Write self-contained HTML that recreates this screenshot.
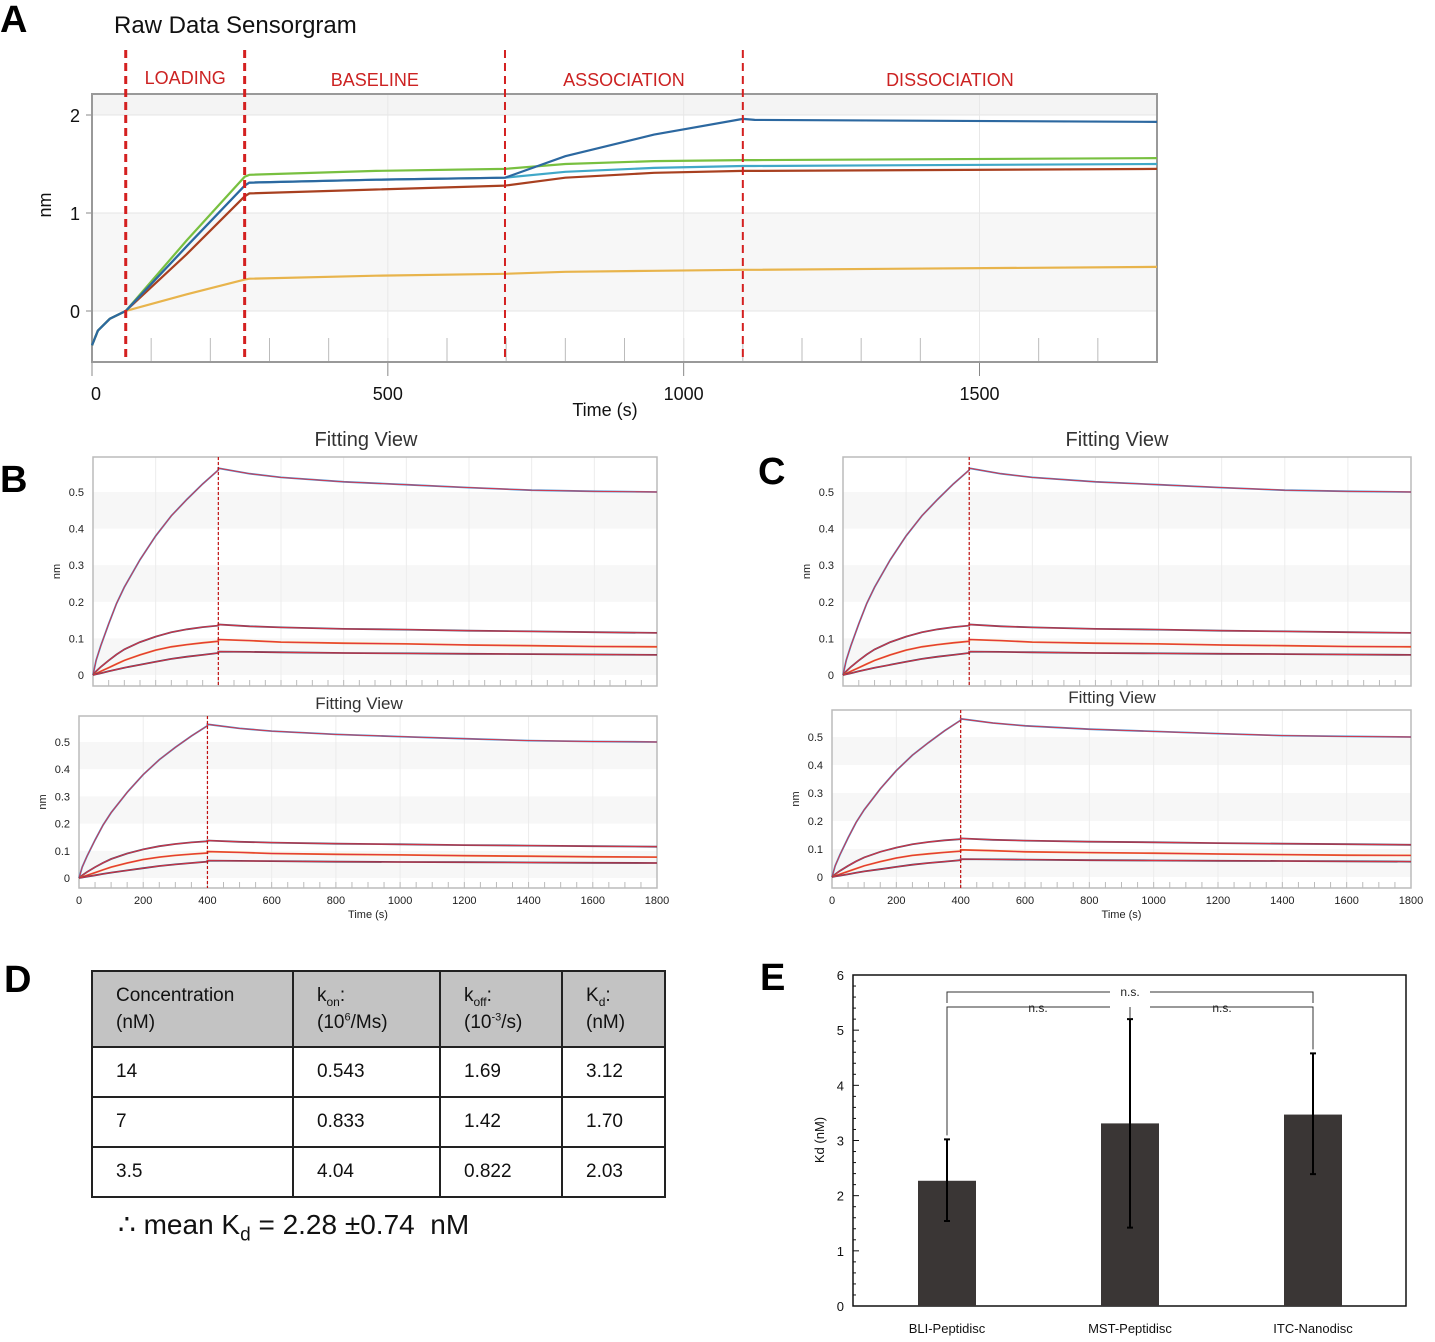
<!DOCTYPE html>
<html><head><meta charset="utf-8">
<style>
body{margin:0;background:#fff;width:1435px;height:1342px;overflow:hidden;position:relative;font-family:"Liberation Sans",sans-serif}
svg{position:absolute;left:0;top:0}
table{position:absolute;left:91px;top:970px;border-collapse:collapse;font-size:19px;color:#111}
td{border:2px solid #222;padding:0 0 0 23px;vertical-align:middle}
td sub,td sup{line-height:0}
tr.h td{background:#c3c3c3;height:74px;line-height:27px}
tr.r td{height:48px}
.mean{position:absolute;left:118px;top:1208px;font-size:28px;color:#111}
.mean sub{line-height:0}
</style></head><body>
<svg id="s" width="1435" height="1342" xmlns="http://www.w3.org/2000/svg" font-family="Liberation Sans, sans-serif"></svg>
<table>
<tr class="h"><td style="width:176px">Concentration<br>(nM)</td><td style="width:122px">k<sub style="font-size:12px">on</sub>:<br>(10<sup style="font-size:11px">6</sup>/Ms)</td><td style="width:97px">k<sub style="font-size:12px">off</sub>:<br>(10<sup style="font-size:11px">-3</sup>/s)</td><td style="width:78px">K<sub style="font-size:12px">d</sub>:<br>(nM)</td></tr>
<tr class="r"><td>14</td><td>0.543</td><td>1.69</td><td>3.12</td></tr>
<tr class="r"><td>7</td><td>0.833</td><td>1.42</td><td>1.70</td></tr>
<tr class="r"><td>3.5</td><td>4.04</td><td>0.822</td><td>2.03</td></tr>
</table>
<div class="mean">∴ mean K<sub style="font-size:19px">d</sub> = 2.28 ±0.74&nbsp; nM</div>
<script>
// Panel A data
const aTimes=[0,10,30,57,160,258,266,480,698,800,950,1100,1120,1800];
const aGreen=[-0.35,-0.2,-0.08,0,0.72,1.37,1.39,1.43,1.45,1.50,1.53,1.54,1.54,1.56];
const aDarkBlue=[-0.35,-0.2,-0.08,0,0.66,1.28,1.31,1.34,1.36,1.58,1.80,1.96,1.95,1.93];
const aTeal=[-0.35,-0.2,-0.08,0,0.66,1.28,1.31,1.34,1.36,1.42,1.46,1.48,1.48,1.50];
const aBrown=[-0.35,-0.2,-0.08,0,0.58,1.17,1.20,1.24,1.28,1.36,1.41,1.43,1.43,1.45];
const aYellow=[-0.35,-0.2,-0.08,0,0.17,0.32,0.33,0.36,0.38,0.40,0.41,0.42,0.42,0.45];
const aPhaseTimes=[57,258,698,1100];
const aPhaseLabels=["LOADING","BASELINE","ASSOCIATION","DISSOCIATION"];
const aXTicks=[0,500,1000,1500];
const aYTicks=[0,1,2];
// Fitting data
const fTimes=[0,10,25,50,75,100,150,200,250,300,350,400,400,500,600,800,1000,1200,1400,1600,1800];
const f1=[0,0.04,0.08,0.14,0.195,0.24,0.315,0.38,0.435,0.48,0.522,0.56,0.565,0.55,0.54,0.528,0.52,0.512,0.505,0.502,0.50];
const f2=[0,0.01,0.022,0.04,0.056,0.07,0.09,0.105,0.117,0.125,0.131,0.135,0.138,0.133,0.13,0.126,0.124,0.121,0.119,0.117,0.115];
const f3=[0,0.004,0.01,0.02,0.03,0.04,0.055,0.068,0.077,0.083,0.088,0.092,0.097,0.094,0.09,0.087,0.085,0.082,0.08,0.078,0.077];
const f4=[0,0.002,0.005,0.01,0.015,0.02,0.028,0.036,0.044,0.05,0.055,0.06,0.064,0.063,0.062,0.06,0.059,0.058,0.057,0.056,0.055];
const fYTicks=[0,0.1,0.2,0.3,0.4,0.5];
const fXTicks=[0,200,400,600,800,1000,1200,1400,1600,1800];
// Panel E data
const eCats=["BLI-Peptidisc","MST-Peptidisc","ITC-Nanodisc"];
const eVals=[2.27,3.31,3.47];
const eHi=[3.02,5.20,4.58];
const eLo=[1.54,1.42,2.39];
const eYTicks=[0,1,2,3,4,5,6];

const S=document.getElementById('s');const NS='http://www.w3.org/2000/svg';
function mk(tag,at,txt){const e=document.createElementNS(NS,tag);for(const k in at)e.setAttribute(k,at[k]);if(txt!==undefined)e.textContent=txt;S.appendChild(e);return e;}
function path(xs,ys,X,Y){return xs.map((t,i)=>(i?'L':'M')+X(t).toFixed(1)+' '+Y(ys[i]).toFixed(1)).join('');}

[["A",0,32],["B",0,492],["C",758,484],["D",4,992],["E",760,990]].forEach(d=>{
 const e=mk('text',{x:d[1],y:d[2],'font-size':38,'font-weight':'bold',fill:'#000'},d[0]);
 
 });
let t=mk('text',{x:114,y:33,'font-size':24,fill:'#111'},'Raw Data Sensorgram');



// ---- Panel A ----
{const x0=92,x1=1157,y0=94,y1=362;const X=v=>x0+v*(x1-x0)/1800;const Y=v=>311-v*98;
 mk('rect',{x:x0,y:y0,width:x1-x0,height:y1-y0,fill:'#fff'});
 mk('rect',{x:x0,y:y0,width:x1-x0,height:Y(2)-y0,fill:'#f4f4f4'});
 mk('rect',{x:x0,y:Y(1),width:x1-x0,height:Y(0)-Y(1),fill:'#f7f7f7'});
 aYTicks.forEach(v=>{mk('line',{x1:x0,x2:x1,y1:Y(v),y2:Y(v),stroke:'#e4e4e4'});
  mk('line',{x1:x0-6,x2:x0,y1:Y(v),y2:Y(v),stroke:'#888'});
  const e=mk('text',{x:x0-12,y:Y(v)+7,'font-size':18,'text-anchor':'end',fill:'#111'},v);
  
  });
 for(let v=100;v<1800;v+=100){mk('line',{x1:X(v),x2:X(v),y1:y1-24,y2:y1,stroke:'#bbb'});}
 aXTicks.forEach(v=>{mk('line',{x1:X(v),x2:X(v),y1:y0,y2:y1,stroke:'#e8e8e8'});mk('line',{x1:X(v),x2:X(v),y1:y1,y2:y1+14,stroke:'#888'});
  const e=mk('text',{x:X(v)+(v?0:4),y:400,'font-size':18,'text-anchor':'middle',fill:'#111'},v);
  
  });
 mk('rect',{x:x0,y:y0,width:x1-x0,height:y1-y0,fill:'none',stroke:'#999','stroke-width':2});
 [[aYellow,'#e8b44c'],[aBrown,'#a84020'],[aTeal,'#40a8c8'],[aGreen,'#78c040'],[aDarkBlue,'#2c68a0']].forEach((s,i)=>{
  const e=mk('path',{d:path(aTimes,s[0],X,Y),fill:'none',stroke:s[1],'stroke-width':2.2});
  
  });
 aPhaseTimes.forEach((v,i)=>{const e=mk('line',{x1:X(v),x2:X(v),y1:50,y2:y1,stroke:'#d42020','stroke-width':i<2?3:2,'stroke-dasharray':'8,5'});
  
  
  const nx=i<3?(X(v)+X(aPhaseTimes[i+1]))/2:(X(v)+x1)/2;
  const l=mk('text',{x:nx,y:i?86:84,'font-size':18,'text-anchor':'middle',fill:'#cc2222'},aPhaseLabels[i]);
  
  });
 let e=mk('text',{x:51,y:205,'font-size':18,transform:'rotate(-90 51 205)','text-anchor':'middle',fill:'#111'},'nm');
 
 
 e=mk('text',{x:605,y:416,'font-size':18,'text-anchor':'middle',fill:'#111'},'Time (s)');
 
 }

// ---- Fitting views ----
function fit(o){const X=v=>o.x0+v*(o.x1-o.x0)/1800;const Y=v=>o.yz-v*o.k;
 mk('rect',{x:o.x0,y:o.y0,width:o.x1-o.x0,height:o.y1-o.y0,fill:'#fff'});
 [[0,0.1],[0.2,0.3],[0.4,0.5]].forEach(b=>mk('rect',{x:o.x0,y:Y(b[1]),width:o.x1-o.x0,height:Y(b[0])-Y(b[1]),fill:'#f7f7f7'}));
 fXTicks.forEach(v=>mk('line',{x1:X(v),x2:X(v),y1:o.y0,y2:o.y1,stroke:'#ececec'}));
 for(let v=50;v<1800;v+=50)mk('line',{x1:X(v),x2:X(v),y1:o.y1-6,y2:o.y1,stroke:'#bbb'});
 fYTicks.forEach(v=>{const e=mk('text',{x:o.x0-9,y:Y(v)+4,'font-size':11,'text-anchor':'end',fill:'#222'},v);
  
  });
 if(o.xl){fXTicks.forEach(v=>{const e=mk('text',{x:X(v),y:o.y1+16,'font-size':11,'text-anchor':'middle',fill:'#222'},v);
  
  });
  const e=mk('text',{x:(o.x0+o.x1)/2,y:o.y1+30,'font-size':11,'text-anchor':'middle',fill:'#222'},'Time (s)');
  
  }
 mk('rect',{x:o.x0,y:o.y0,width:o.x1-o.x0,height:o.y1-o.y0,fill:'none',stroke:'#bbb','stroke-width':1.5});
 [[f1,'#4a90d0'],[f2,'#5a4a6a'],[f3,'#f07020'],[f4,'#4a4060']].forEach((s,i)=>{
  const d=path(fTimes,s[0],X,Y);
  const e=mk('path',{d:d,fill:'none',stroke:s[1],'stroke-width':1.8});
  
  
  const f=mk('path',{d:d,fill:'none',stroke:'#e03040','stroke-width':0.9});
  
  });
 const dl=mk('line',{x1:X(400),x2:X(400),y1:o.y0,y2:o.y1,stroke:'#c01010','stroke-width':1.2,'stroke-dasharray':'3,2'});
 
 
 let e=mk('text',{x:o.x0-33,y:(o.y0+o.y1)/2,'font-size':11,transform:`rotate(-90 ${o.x0-33} ${(o.y0+o.y1)/2})`,'text-anchor':'middle',fill:'#222'},'nm');
 
 
 e=mk('text',{x:o.tx,y:o.ty,'font-size':o.ts,'text-anchor':'middle',fill:'#333'},'Fitting View');
 
 }
fit({x0:93,x1:657,y0:457,y1:686,yz:675,k:366,tx:366,ty:446,ts:20});
fit({x0:79,x1:657,y0:716,y1:888,yz:878,k:272,xl:1,tx:359,ty:709,ts:17});
fit({x0:843,x1:1411,y0:457,y1:686,yz:675,k:366,tx:1117,ty:446,ts:20});
fit({x0:832,x1:1411,y0:710,y1:888,yz:877,k:280,xl:1,tx:1112,ty:703,ts:17});

// ---- Panel E ----
{const x0=853,x1=1406,y0=975,y1=1306;const Y=v=>y1-v*(y1-y0)/6;const cx=[947,1130,1313];
 mk('rect',{x:x0,y:y0,width:x1-x0,height:y1-y0,fill:'#fff',stroke:'#111','stroke-width':1.5});
 for(let v=0;v<=6.001;v+=0.2)mk('line',{x1:x0,x2:x0+(Math.abs(v-Math.round(v))<0.01?6:3),y1:Y(v),y2:Y(v),stroke:'#111'});
 eYTicks.forEach(v=>{const e=mk('text',{x:x0-9,y:Y(v)+5,'font-size':13,'text-anchor':'end',fill:'#111'},v);
  
  });
 eCats.forEach((c,i)=>{
  const b=mk('rect',{x:cx[i]-29,y:Y(eVals[i]),width:58,height:Y(0)-Y(eVals[i]),fill:'#3a3635'});
  
  
  const er=mk('path',{d:`M${cx[i]} ${Y(eHi[i])}V${Y(eLo[i])}M${cx[i]-3} ${Y(eHi[i])}h6M${cx[i]-3} ${Y(eLo[i])}h6`,stroke:'#000','stroke-width':2,fill:'none'});
  
  
  const l=mk('text',{x:cx[i],y:1333,'font-size':13,'text-anchor':'middle',fill:'#111'},c);
  
  });
 const br=mk('path',{d:`M947 ${Y(eHi[0])-4}V1007H1110M1150 1007H1313V${Y(eHi[2])-4}M1130 1007V1018M947 1003V992H1110M1150 992H1313V1003`,stroke:'#333','stroke-width':1,fill:'none'});
 
 
 [[1130,996],[1038,1012],[1222,1012]].forEach(p=>{const e=mk('text',{x:p[0],y:p[1],'font-size':12,'text-anchor':'middle',fill:'#222'},'n.s.');
  
  });
 const e=mk('text',{x:824,y:1140,'font-size':13,transform:'rotate(-90 824 1140)','text-anchor':'middle',fill:'#111'},'Kd (nM)');
 
 }
</script>
</body></html>
